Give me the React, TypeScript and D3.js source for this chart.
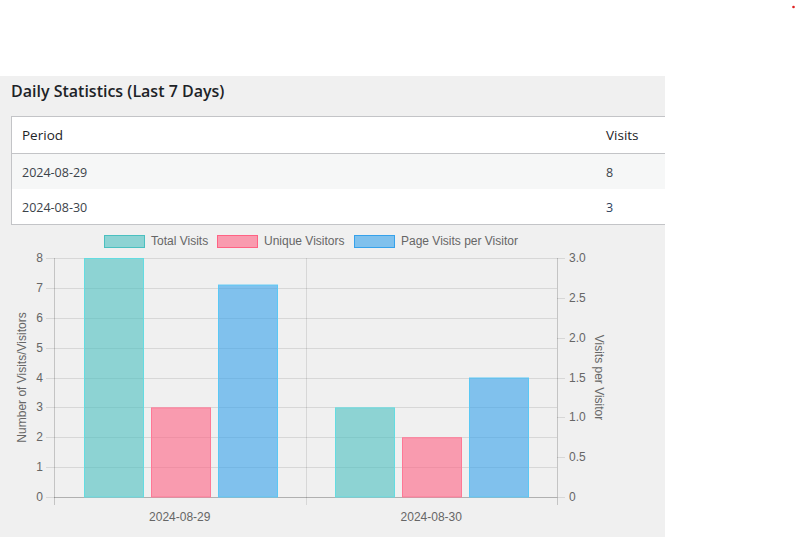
import React from "react";
import * as d3 from "d3";

const categories = ["2024-08-29", "2024-08-30"];
const totalVisits = [8, 3];
const uniqueVisitors = [3, 2];
const visitsPerVisitor = [8 / 3, 1.5];
const leftTicks = [0, 1, 2, 3, 4, 5, 6, 7, 8];
const rightTicks = [0, 0.5, 1, 1.5, 2, 2.5, 3];
const tableRows = [
  { period: "2024-08-29", visits: "8" },
  { period: "2024-08-30", visits: "3" },
];
const legendItems = ["Total Visits", "Unique Visitors", "Page Visits per Visitor"];

const series = [
  { name: "Total Visits", values: totalVisits, axis: "left", fill: "rgba(75,192,192,0.6)", stroke: "rgb(100,220,225)" },
  { name: "Unique Visitors", values: uniqueVisitors, axis: "left", fill: "rgba(255,99,132,0.6)", stroke: "rgb(255,120,150)" },
  { name: "Page Visits per Visitor", values: visitsPerVisitor, axis: "right", fill: "rgba(54,162,235,0.6)", stroke: "rgb(90,200,245)" },
];

const legendColors = [
  { fill: "rgba(75,192,192,0.6)", stroke: "rgb(75,192,192)" },
  { fill: "rgba(255,99,132,0.6)", stroke: "rgb(255,99,132)" },
  { fill: "rgba(54,162,235,0.6)", stroke: "rgb(54,162,235)" },
];

export default function App() {
  const W = 797, H = 537;
  const left = 54, right = 557, top = 258, bottom = 497;
  const x0 = d3.scaleBand<string>().domain(categories).range([left, right]).paddingInner(0).paddingOuter(0);
  const yL = d3.scaleLinear().domain([0, 8]).range([bottom, top]);
  const yR = d3.scaleLinear().domain([0, 3]).range([bottom, top]);
  const catW = x0.bandwidth();
  const groupW = catW * 0.8;
  const slotW = groupW / series.length;
  const barW = slotW * 0.9;
  const chartFont = "'Liberation Sans', Arial, sans-serif";
  const tableFont = "'Open Sans', 'Noto Sans', sans-serif";
  const grid = "rgba(0,0,0,0.1)";

  const legendX = [104, 217, 354];

  return (
    <svg width={W} height={H} style={{ position: "absolute", left: 0, top: 0 }}>
      <rect x={0} y={0} width={W} height={H} fill="#ffffff" />
      <circle cx={793.5} cy={7} r={1.3} fill="#e02020" />
      <rect x={0} y={76} width={665} height={H - 76} fill="#f0f0f0" />
      <text x={11} y={97} fontFamily={tableFont} fontSize={16} fontWeight={600} fill="#1d2327">
        Daily Statistics (Last 7 Days)
      </text>
      {/* table */}
      <rect x={12} y={117} width={653} height={107} fill="#ffffff" />
      <rect x={12} y={154} width={653} height={35} fill="#f6f7f7" />
      <line x1={11.5} x2={11.5} y1={116} y2={225} stroke="#c3c4c7" />
      <line x1={11} x2={665} y1={116.5} y2={116.5} stroke="#c3c4c7" />
      <line x1={12} x2={665} y1={153.5} y2={153.5} stroke="#c3c4c7" />
      <line x1={11} x2={665} y1={224.5} y2={224.5} stroke="#c3c4c7" />
      <text x={22} y={140} fontFamily={tableFont} fontSize={13.5} fill="#1d2327">Period</text>
      <text x={606} y={140} fontFamily={tableFont} fontSize={13.5} fill="#1d2327">Visits</text>
      {tableRows.map((r, i) => (
        <g key={r.period}>
          <text x={22} y={177 + i * 35} fontFamily={tableFont} fontSize={12.5} fill="#3c434a">{r.period}</text>
          <text x={606} y={177 + i * 35} fontFamily={tableFont} fontSize={12.5} fill={i === 1 ? "#2c3e5a" : "#3c434a"}>{r.visits}</text>
        </g>
      ))}
      {/* legend */}
      {legendItems.map((name, i) => (
        <g key={name}>
          <rect x={legendX[i] + 0.5} y={235.5} width={40} height={12} fill={legendColors[i].fill} stroke={legendColors[i].stroke} />
          <text x={legendX[i] + 47} y={245} fontFamily={chartFont} fontSize={12} fill="#666">{name}</text>
        </g>
      ))}
      {/* grid */}
      {leftTicks.map((t) => (
        <g key={"gl" + t}>
          <line x1={left - 8} x2={right} y1={Math.round(yL(t)) + 0.5} y2={Math.round(yL(t)) + 0.5} stroke={grid} />
          <text x={43} y={yL(t) + 4} textAnchor="end" fontFamily={chartFont} fontSize={12} fill="#666">{t}</text>
        </g>
      ))}
      {rightTicks.map((t) => (
        <g key={"gr" + t}>
          <line x1={right} x2={right + 8} y1={Math.round(yR(t)) + 0.5} y2={Math.round(yR(t)) + 0.5} stroke={grid} />
          <text x={569} y={yR(t) + 4} textAnchor="start" fontFamily={chartFont} fontSize={12} fill="#666">{t === 0 ? "0" : d3.format(".1f")(t)}</text>
        </g>
      ))}
      {[left, left + catW, right].map((xv, i) => (
        <line key={"v" + i} x1={Math.round(xv) + 0.5} x2={Math.round(xv) + 0.5} y1={top} y2={bottom + 8} stroke={i === 1 ? grid : "rgba(0,0,0,0.18)"} />
      ))}
      <line x1={left} x2={right} y1={bottom + 0.5} y2={bottom + 0.5} stroke="rgba(0,0,0,0.18)" />
      {/* bars */}
      {categories.map((c, ci) => {
        const gx = (x0(c) as number) + (catW - groupW) / 2;
        return (
          <g key={c}>
            {series.map((s, si) => {
              const y = s.axis === "left" ? yL : yR;
              const bx = Math.round(gx + si * slotW + (slotW - barW) / 2) + 1;
              const by = y(s.values[ci]);
              return (
                <rect key={s.name} x={bx + 0.5} y={by + 0.5} width={Math.round(barW) - 1} height={bottom - by - 0.5} fill={s.fill} stroke={s.stroke} strokeWidth={1} />
              );
            })}
            <text x={(x0(c) as number) + catW / 2} y={521} textAnchor="middle" fontFamily={chartFont} fontSize={12} fill="#666">{c}</text>
          </g>
        );
      })}
      {/* axis titles */}
      <text transform={`translate(26,${(top + bottom) / 2}) rotate(-90)`} textAnchor="middle" fontFamily={chartFont} fontSize={12} fill="#666">Number of Visits/Visitors</text>
      <text transform={`translate(595,${(top + bottom) / 2}) rotate(90)`} textAnchor="middle" fontFamily={chartFont} fontSize={12} fill="#666">Visits per Visitor</text>
    </svg>
  );
}
